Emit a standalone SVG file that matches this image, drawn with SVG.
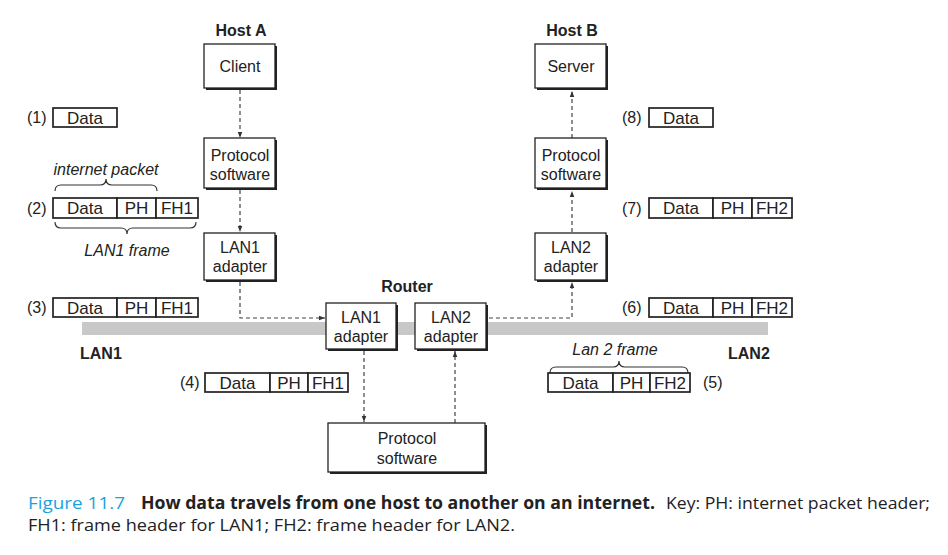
<svg xmlns="http://www.w3.org/2000/svg" width="948" height="555" viewBox="0 0 948 555">
<style>
text{font-family:"Liberation Sans",Arial,sans-serif;fill:#222}
.t{font-size:16px;text-anchor:middle}
.h{font-size:16px;font-weight:bold;text-anchor:middle}
.lab{font-size:16px}
.it{font-size:16px;font-style:italic;text-anchor:middle}
.pk{font-size:17px;text-anchor:middle}
.box{fill:#fff;stroke:#222;stroke-width:1.3}
.sh{fill:#222}
.cell{fill:#fff;stroke:#222;stroke-width:1.7}
.con{fill:none;stroke:#444;stroke-width:1.2;stroke-dasharray:4,3}
.br{fill:none;stroke:#333;stroke-width:1.2}
.cap{font-family:"Open Sans","Liberation Sans",sans-serif;font-size:17px}
</style>
<defs>
<marker id="ah" viewBox="0 0 8 8" refX="8" refY="4" markerWidth="6" markerHeight="6" orient="auto" markerUnits="userSpaceOnUse">
<path d="M0,1 L8,4 L0,7 z" fill="#333"/>
</marker>
</defs>

<rect x="82" y="322" width="686" height="13" fill="#c8c8c8"/>
<text class="lab" x="80" y="359" font-weight="bold">LAN1</text>
<text class="lab" x="728" y="359" font-weight="bold">LAN2</text>

<g id="connectors">
<path class="con" d="M240,90 V138" marker-end="url(#ah)"/>
<path class="con" d="M240,190 V232" marker-end="url(#ah)"/>
<path class="con" d="M240,282 V318 H325" marker-end="url(#ah)"/>
<path class="con" d="M364,351 V422" marker-end="url(#ah)"/>
<path class="con" d="M455,423 V351" marker-end="url(#ah)"/>
<path class="con" d="M489,318 H572 V282" marker-end="url(#ah)"/>
<path class="con" d="M572,232 V191" marker-end="url(#ah)"/>
<path class="con" d="M572,138 V91" marker-end="url(#ah)"/>
</g>

<text class="h" x="241" y="36">Host A</text>
<text class="h" x="572" y="36">Host B</text>
<text class="h" x="407" y="292">Router</text>

<g id="client">
<rect class="sh" x="206" y="46" width="71" height="44"/>
<rect class="box" x="204" y="44" width="71" height="44"/>
<text class="t" x="240" y="72">Client</text>
</g>
<g id="protoA">
<rect class="sh" x="206" y="140" width="71" height="50"/>
<rect class="box" x="204" y="138" width="71" height="50"/>
<text class="t" x="240" y="161">Protocol</text>
<text class="t" x="240" y="180">software</text>
</g>
<g id="lan1A">
<rect class="sh" x="206" y="235" width="71" height="47"/>
<rect class="box" x="204" y="233" width="71" height="47"/>
<text class="t" x="240" y="253">LAN1</text>
<text class="t" x="240" y="272">adapter</text>
</g>

<g id="server">
<rect class="sh" x="537" y="46" width="71" height="44"/>
<rect class="box" x="535" y="44" width="71" height="44"/>
<text class="t" x="571" y="72">Server</text>
</g>
<g id="protoB">
<rect class="sh" x="537" y="140" width="71" height="50"/>
<rect class="box" x="535" y="138" width="71" height="50"/>
<text class="t" x="571" y="161">Protocol</text>
<text class="t" x="571" y="180">software</text>
</g>
<g id="lan2B">
<rect class="sh" x="537" y="235" width="71" height="47"/>
<rect class="box" x="535" y="233" width="71" height="47"/>
<text class="t" x="571" y="253">LAN2</text>
<text class="t" x="571" y="272">adapter</text>
</g>

<g id="rLan1">
<rect class="sh" x="328" y="305" width="70" height="46"/>
<rect class="box" x="326" y="303" width="70" height="46"/>
<text class="t" x="361" y="323">LAN1</text>
<text class="t" x="361" y="342">adapter</text>
</g>
<g id="rLan2">
<rect class="sh" x="417" y="305" width="71" height="46"/>
<rect class="box" x="415" y="303" width="71" height="46"/>
<text class="t" x="451" y="323">LAN2</text>
<text class="t" x="451" y="342">adapter</text>
</g>
<g id="rProto">
<rect class="sh" x="330" y="425" width="157" height="49"/>
<rect class="box" x="328" y="423" width="157" height="49"/>
<text class="t" x="407" y="444">Protocol</text>
<text class="t" x="407" y="464">software</text>
</g>

<g id="p1">
<text class="lab" x="27" y="123">(1)</text>
<rect class="cell" x="53" y="108" width="64" height="19"/>
<text class="pk" x="85" y="124">Data</text>
</g>
<g id="p2">
<text class="it" x="106" y="175">internet packet</text>
<path class="br" d="M55,191 q0,-6 6,-6 H100 q6,0 6,-6 q0,6 6,6 H151 q6,0 6,6"/>
<text class="lab" x="27" y="214">(2)</text>
<rect class="cell" x="53" y="198" width="64" height="20"/>
<rect class="cell" x="117" y="198" width="39" height="20"/>
<rect class="cell" x="156" y="198" width="42" height="20"/>
<text class="pk" x="85" y="214">Data</text>
<text class="pk" x="136.500" y="214">PH</text>
<text class="pk" x="177" y="214">FH1</text>
<path class="br" d="M55,222 q0,6 6,6 H121 q6,0 6,6 q0,-6 6,-6 H190 q6,0 6,-6"/>
<text class="it" x="127" y="256">LAN1 frame</text>
</g>
<g id="p3">
<text class="lab" x="27" y="313">(3)</text>
<rect class="cell" x="53" y="298" width="64" height="19"/>
<rect class="cell" x="117" y="298" width="39" height="19"/>
<rect class="cell" x="156" y="298" width="42" height="19"/>
<text class="pk" x="85" y="314">Data</text>
<text class="pk" x="136.500" y="314">PH</text>
<text class="pk" x="177" y="314">FH1</text>
</g>
<g id="p4">
<text class="lab" x="180" y="388">(4)</text>
<rect class="cell" x="205" y="373" width="65" height="19"/>
<rect class="cell" x="270" y="373" width="38" height="19"/>
<rect class="cell" x="308" y="373" width="40" height="19"/>
<text class="pk" x="237.500" y="389">Data</text>
<text class="pk" x="289" y="389">PH</text>
<text class="pk" x="328" y="389">FH1</text>
</g>
<g id="p5">
<text class="it" x="615" y="355">Lan 2 frame</text>
<path class="br" d="M550,373 q0,-6 6,-6 H613 q6,0 6,-6 q0,6 6,6 H682 q6,0 6,6"/>
<rect class="cell" x="548" y="373" width="65" height="19"/>
<rect class="cell" x="613" y="373" width="37" height="19"/>
<rect class="cell" x="650" y="373" width="40" height="19"/>
<text class="pk" x="580.500" y="389">Data</text>
<text class="pk" x="631.500" y="389">PH</text>
<text class="pk" x="670" y="389">FH2</text>
<text class="lab" x="703" y="388">(5)</text>
</g>
<g id="p6">
<text class="lab" x="622" y="313">(6)</text>
<rect class="cell" x="649" y="298" width="64" height="19"/>
<rect class="cell" x="713" y="298" width="39" height="19"/>
<rect class="cell" x="752" y="298" width="40" height="19"/>
<text class="pk" x="681" y="314">Data</text>
<text class="pk" x="732.500" y="314">PH</text>
<text class="pk" x="772" y="314">FH2</text>
</g>
<g id="p7">
<text class="lab" x="622" y="214">(7)</text>
<rect class="cell" x="649" y="198" width="64" height="20"/>
<rect class="cell" x="713" y="198" width="39" height="20"/>
<rect class="cell" x="752" y="198" width="40" height="20"/>
<text class="pk" x="681" y="214">Data</text>
<text class="pk" x="732.500" y="214">PH</text>
<text class="pk" x="772" y="214">FH2</text>
</g>
<g id="p8">
<text class="lab" x="622" y="123">(8)</text>
<rect class="cell" x="649" y="108" width="64" height="19"/>
<text class="pk" x="681" y="124">Data</text>
</g>

<g id="caption">
<text class="cap" x="28" y="509" style="fill:#1aa3e0" textLength="97" lengthAdjust="spacingAndGlyphs">Figure 11.7</text>
<text class="cap" x="141" y="509" font-weight="bold" textLength="514" lengthAdjust="spacingAndGlyphs">How data travels from one host to another on an internet.</text>
<text class="cap" x="666" y="509" textLength="264" lengthAdjust="spacingAndGlyphs">Key: PH: internet packet header;</text>
<text class="cap" x="28" y="531" textLength="487" lengthAdjust="spacingAndGlyphs">FH1: frame header for LAN1; FH2: frame header for LAN2.</text>
</g>
</svg>
